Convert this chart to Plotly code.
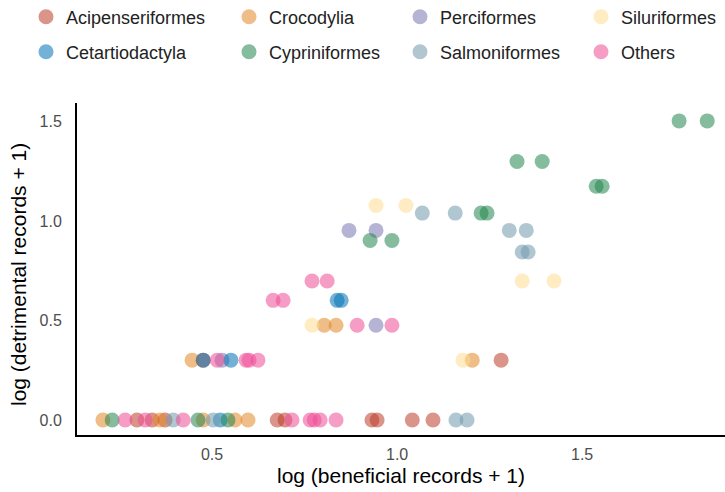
import plotly.graph_objects as go

# ---- data (log10(records + 1)) ----
aci_x = [0.297, 0.338, 0.373, 0.676, 0.697, 0.932, 0.946, 1.041, 1.097, 0.476, 1.281]
aci_y = [0, 0, 0, 0, 0, 0, 0, 0, 0, 0.301, 0.301]

cro_x = [0.205, 0.359, 0.476, 0.562, 0.597, 0.446, 1.203, 0.803, 0.835]
cro_y = [0, 0, 0, 0, 0, 0.301, 0.301, 0.477, 0.477]

per_x = [0.870, 0.943, 0.943, 0.527]
per_y = [0.954, 0.954, 0.477, 0.301]

sil_x = [0.943, 1.024, 1.338, 1.424, 0.770, 1.178]
sil_y = [1.079, 1.079, 0.699, 0.699, 0.477, 0.301]

cet_x = [0.838, 0.849, 0.551, 0.476, 0.522]
cet_y = [0.602, 0.602, 0.301, 0.301, 0]

cyp_x = [1.762, 1.838, 1.324, 1.392, 1.538, 1.554, 1.227, 1.243, 0.927, 0.986, 0.230, 0.462, 0.543]
cyp_y = [1.505, 1.505, 1.301, 1.301, 1.176, 1.176, 1.041, 1.041, 0.903, 0.903, 0, 0, 0]

sal_x = [1.068, 1.157, 1.303, 1.349, 1.338, 1.354, 0.395, 0.503, 1.159, 1.189]
sal_y = [1.041, 1.041, 0.954, 0.954, 0.845, 0.845, 0, 0, 0, 0]

oth_x = [0.770, 0.811, 0.665, 0.692, 0.892, 0.986, 0.514, 0.592, 0.600, 0.624,
         0.265, 0.319, 0.422, 0.716, 0.765, 0.776, 0.792, 0.835]
oth_y = [0.699, 0.699, 0.602, 0.602, 0.477, 0.477, 0.301, 0.301, 0.301, 0.301,
         0, 0, 0, 0, 0, 0, 0, 0]

x_ticks = [0.5, 1.0, 1.5]
x_ticktext = ["0.5", "1.0", "1.5"]
y_ticks = [0.0, 0.5, 1.0, 1.5]
y_ticktext = ["0.0", "0.5", "1.0", "1.5"]

groups = ["Acipenseriformes", "Crocodylia", "Perciformes", "Siluriformes",
          "Cetartiodactyla", "Cypriniformes", "Salmoniformes", "Others"]
group_x = [aci_x, cro_x, per_x, sil_x, cet_x, cyp_x, sal_x, oth_x]
group_y = [aci_y, cro_y, per_y, sil_y, cet_y, cyp_y, sal_y, oth_y]
colors = ["#BC3C29", "#E18727", "#7876B1", "#FFDC91",
          "#0072B5", "#20854E", "#6F99AD", "#EE4C97"]

# legend layout: 2 rows x 4 columns (pixel positions in the 725x492 page)
leg_left = [26, 229, 400, 581, 26, 229, 400, 581]
leg_mid = [17, 17, 17, 17, 52, 52, 52, 52]

FONT = "Liberation Sans, Arial, sans-serif"
W, H = 725, 492
ML, MR, MT, MB = 77, 0, 103, 57

fig = go.Figure()
layout_legends = {}
for i, (name, xs, ys, col) in enumerate(zip(groups, group_x, group_y, colors)):
    key = "legend" if i == 0 else f"legend{i + 1}"
    fig.add_trace(go.Scatter(
        x=xs, y=ys, mode="markers", name=name, legend=key,
        marker=dict(size=15, color=col, opacity=0.55, line=dict(width=0)),
    ))
    layout_legends[key] = dict(
        orientation="v", xref="container", yref="container",
        xanchor="left", yanchor="middle",
        x=leg_left[i] / W, y=1 - leg_mid[i] / H,
        font=dict(family=FONT, size=18, color="#222222"),
        bgcolor="rgba(0,0,0,0)", borderwidth=0, itemclick=False,
    )

plot_w = W - ML - MR
plot_h = H - MT - MB

fig.update_layout(
    width=W, height=H,
    margin=dict(l=ML, r=MR, t=MT, b=MB, autoexpand=False),
    paper_bgcolor="white", plot_bgcolor="white",
    font=dict(family=FONT),
    showlegend=True,
    **layout_legends,
    xaxis=dict(
        range=[0.135, 1.886], showgrid=False, zeroline=False,
        showline=True, linecolor="black", linewidth=2,
        tickmode="array", tickvals=x_ticks, ticktext=x_ticktext,
        ticks="", ticklabelstandoff=4, automargin=True,
        tickfont=dict(family=FONT, size=16, color="#4D4D4D"),
        title=dict(text="log (beneficial records + 1)", standoff=6,
                   font=dict(family=FONT, size=21, color="black")),
    ),
    yaxis=dict(
        range=[-0.0755, 1.595], showgrid=False, zeroline=False,
        showline=True, linecolor="black", linewidth=2,
        tickmode="array", tickvals=y_ticks, ticktext=y_ticktext,
        ticks="", ticklabelstandoff=10, automargin=False,
        tickfont=dict(family=FONT, size=16, color="#4D4D4D"),
    ),
    annotations=[dict(
        text="log (detrimental records + 1)", textangle=-90,
        xref="paper", yref="paper",
        x=(18 - ML) / plot_w, y=(H - MB - 275) / plot_h,
        xanchor="center", yanchor="middle", showarrow=False,
        font=dict(family=FONT, size=21, color="black"),
    )],
)

fig.write_html("out.html")
